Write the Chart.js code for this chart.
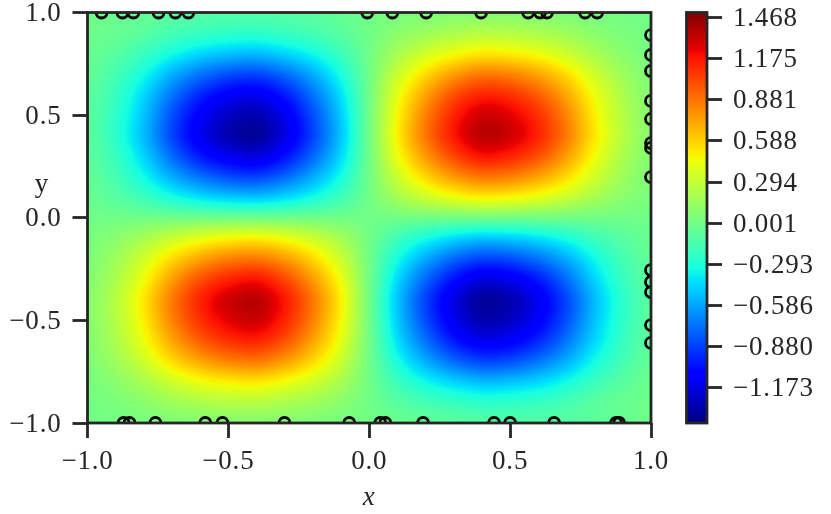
<!DOCTYPE html>
<html><head><meta charset="utf-8">
<script src="https://cdn.jsdelivr.net/npm/chart.js@4"></script>
<style>html,body{margin:0;padding:0;background:#fff}canvas{position:absolute;top:0;display:block}</style>
</head><body>
<canvas id="main" width="831" height="514" style="left:0"></canvas>
<canvas id="bar" width="171" height="514" style="left:660px"></canvas>
<script>
const xGrid=[-1,-0.9,-0.8,-0.7,-0.6,-0.5,-0.4,-0.3,-0.2,-0.1,0,0.1,0.2,0.3,0.4,0.5,0.6,0.7,0.8,0.9,1];
const yGrid=[1,0.9,0.8,0.7,0.6,0.5,0.4,0.3,0.2,0.1,0,-0.1,-0.2,-0.3,-0.4,-0.5,-0.6,-0.7,-0.8,-0.9,-1];
const zGrid=[
[-0.01,-0.03,-0.05,-0.08,-0.10,-0.11,-0.11,-0.10,-0.08,-0.05,0,0.03,0.05,0.07,0.08,0.08,0.07,0.05,0.03,0.01,0],
[-0.01,-0.04,-0.09,-0.16,-0.21,-0.24,-0.25,-0.21,-0.16,-0.09,0,0.09,0.16,0.21,0.25,0.24,0.21,0.16,0.09,0.04,0.01],
[-0.03,-0.09,-0.20,-0.33,-0.44,-0.50,-0.52,-0.45,-0.34,-0.19,0,0.19,0.34,0.45,0.52,0.50,0.44,0.33,0.20,0.09,0.03],
[-0.05,-0.16,-0.33,-0.55,-0.72,-0.83,-0.86,-0.75,-0.56,-0.31,0,0.31,0.56,0.75,0.86,0.83,0.72,0.55,0.33,0.16,0.05],
[-0.07,-0.21,-0.44,-0.72,-0.95,-1.09,-1.13,-0.99,-0.73,-0.41,0,0.41,0.73,0.99,1.13,1.09,0.95,0.72,0.44,0.21,0.07],
[-0.08,-0.24,-0.50,-0.83,-1.09,-1.25,-1.30,-1.13,-0.84,-0.47,0,0.47,0.84,1.13,1.30,1.25,1.09,0.83,0.50,0.24,0.08],
[-0.08,-0.25,-0.52,-0.86,-1.13,-1.30,-1.35,-1.17,-0.87,-0.49,0,0.49,0.87,1.17,1.35,1.30,1.13,0.86,0.52,0.25,0.08],
[-0.07,-0.21,-0.45,-0.75,-0.99,-1.13,-1.18,-1.02,-0.76,-0.43,0,0.43,0.76,1.02,1.18,1.13,0.99,0.75,0.45,0.21,0.07],
[-0.05,-0.16,-0.34,-0.56,-0.73,-0.84,-0.87,-0.76,-0.57,-0.32,0,0.32,0.57,0.76,0.87,0.84,0.73,0.56,0.34,0.16,0.05],
[-0.03,-0.09,-0.19,-0.31,-0.41,-0.47,-0.49,-0.43,-0.32,-0.18,0,0.18,0.32,0.43,0.49,0.47,0.41,0.31,0.19,0.09,0.03],
[0,0,0,0,0,0,0,0,0,0,0,0,0,0,0,0,0,0,0,0,0],
[0.03,0.09,0.19,0.31,0.41,0.47,0.49,0.43,0.32,0.18,0,-0.18,-0.32,-0.43,-0.49,-0.47,-0.41,-0.31,-0.19,-0.09,-0.03],
[0.05,0.16,0.34,0.56,0.73,0.84,0.87,0.76,0.57,0.32,0,-0.32,-0.57,-0.76,-0.87,-0.84,-0.73,-0.56,-0.34,-0.16,-0.05],
[0.07,0.21,0.45,0.75,0.99,1.13,1.18,1.02,0.76,0.43,0,-0.43,-0.76,-1.02,-1.18,-1.13,-0.99,-0.75,-0.45,-0.21,-0.07],
[0.08,0.25,0.52,0.86,1.13,1.30,1.35,1.17,0.87,0.49,0,-0.49,-0.87,-1.17,-1.35,-1.30,-1.13,-0.86,-0.52,-0.25,-0.08],
[0.08,0.24,0.50,0.83,1.09,1.25,1.30,1.13,0.84,0.47,0,-0.47,-0.84,-1.13,-1.30,-1.25,-1.09,-0.83,-0.50,-0.24,-0.08],
[0.07,0.21,0.44,0.72,0.95,1.09,1.13,0.99,0.73,0.41,0,-0.41,-0.73,-0.99,-1.13,-1.09,-0.95,-0.72,-0.44,-0.21,-0.07],
[0.05,0.16,0.33,0.55,0.72,0.83,0.86,0.75,0.56,0.31,0,-0.31,-0.56,-0.75,-0.86,-0.83,-0.72,-0.55,-0.33,-0.16,-0.05],
[0.03,0.09,0.20,0.33,0.44,0.50,0.52,0.45,0.34,0.19,0,-0.19,-0.34,-0.45,-0.52,-0.50,-0.44,-0.33,-0.20,-0.09,-0.03],
[0.01,0.04,0.09,0.16,0.21,0.24,0.25,0.21,0.16,0.09,0,-0.09,-0.16,-0.21,-0.25,-0.24,-0.21,-0.16,-0.09,-0.04,-0.01],
[0,0.01,0.03,0.05,0.07,0.08,0.08,0.07,0.05,0.03,0,-0.03,-0.05,-0.08,-0.10,-0.11,-0.11,-0.10,-0.08,-0.05,-0.01]
];
const topX=[-0.95,-0.876,-0.837,-0.748,-0.688,-0.642,-0.007,0.082,0.202,0.397,0.564,0.606,0.631,0.766,0.809];
const bottomX=[-0.872,-0.851,-0.759,-0.582,-0.521,-0.301,-0.071,0.039,0.057,0.191,0.443,0.5,0.656,0.876,0.887];
const rightY=[0.89,0.793,0.715,0.569,0.481,0.364,0.34,0.198,-0.255,-0.313,-0.362,-0.523,-0.61];
const axisTicks=[-1,-0.5,0,0.5,1];
const cbTicks=[1.468,1.175,0.881,0.588,0.294,0.001,-0.293,-0.586,-0.880,-1.173];
const cbMin=-1.427, cbMax=1.505;
const xLabel='x', yLabel='y';

const INK='#262626', FONT='"Liberation Serif", serif', FS=27, LW=2.8, SP='0.8px';
const jetR=[[0,0],[.35,0],[.66,1],[.89,1],[1,.5]];
const jetG=[[0,0],[.125,0],[.375,1],[.64,1],[.91,0],[1,0]];
const jetB=[[0,.5],[.11,1],[.34,1],[.65,0],[1,0]];
function seg(t,s){for(let i=1;i<s.length;i++){if(t<=s[i][0]){const a=s[i-1],b=s[i];return a[1]+(b[1]-a[1])*(t-a[0])/(b[0]-a[0]);}}return s[s.length-1][1];}
function jet(v){const t=Math.max(0,Math.min(1,(v-cbMin)/(cbMax-cbMin)));return [seg(t,jetR)*255,seg(t,jetG)*255,seg(t,jetB)*255];}
function cr(p0,p1,p2,p3,t){return p1+0.5*t*(p2-p0+t*(2*p0-5*p1+4*p2-p3+t*(3*(p1-p2)+p3-p0)));}
function sample(z,fx,fy){
  const n=z.length-1,m=z[0].length-1;
  const i=Math.min(m-1,Math.max(0,Math.floor(fx))),j=Math.min(n-1,Math.max(0,Math.floor(fy)));
  const tx=fx-i,ty=fy-j,row=[];
  for(let b=-1;b<=2;b++){const r=z[Math.max(0,Math.min(n,j+b))];
    row.push(cr(r[Math.max(0,i-1)],r[i],r[i+1],r[Math.min(m,i+2)],tx));}
  return cr(row[0],row[1],row[2],row[3],ty);
}
const spacing={id:'spacing',beforeUpdate(chart){chart.ctx.letterSpacing=SP;},beforeDraw(chart){chart.ctx.letterSpacing=SP;}};
const fieldPlugin={id:'field',beforeDatasetsDraw(chart){
  const a=chart.chartArea,xs=chart.scales.x,ys=chart.scales.y,ctx=chart.ctx;
  const pts=chart.data.datasets[0].data,nx=xGrid.length,ny=yGrid.length;
  const z=[];for(let j=0;j<ny;j++){z.push(pts.slice(j*nx,(j+1)*nx).map(p=>p.v));}
  const L=Math.floor(a.left),T=Math.floor(a.top),W=Math.ceil(a.right)-L,H=Math.ceil(a.bottom)-T;
  const img=ctx.createImageData(W,H);
  const dx=xGrid[1]-xGrid[0],dy=yGrid[1]-yGrid[0];
  for(let py=0;py<H;py++){const fy=(ys.getValueForPixel(T+py+.5)-yGrid[0])/dy;
    for(let px=0;px<W;px++){const fx=(xs.getValueForPixel(L+px+.5)-xGrid[0])/dx;
      const c=jet(sample(z,fx,fy)),k=(py*W+px)*4;
      img.data[k]=c[0];img.data[k+1]=c[1];img.data[k+2]=c[2];img.data[k+3]=255;}}
  ctx.putImageData(img,L,T);
},afterDraw(chart){
  const a=chart.chartArea,ctx=chart.ctx;
  ctx.save();ctx.strokeStyle=INK;ctx.lineWidth=LW;ctx.strokeRect(a.left,a.top,a.right-a.left,a.bottom-a.top);
  ctx.fillStyle=INK;ctx.font=FS+'px '+FONT;ctx.textAlign='center';ctx.textBaseline='middle';
  const ys=chart.scales.y;
  ctx.fillText(yLabel,42,ys.getPixelForValue(0.16));
  ctx.restore();
}};
function fixScale(dim,val){return function(s){s[dim]=val;s.paddingTop=0;s.paddingBottom=0;s.paddingLeft=0;s.paddingRight=0;};}
const fmt1=v=>Number(v).toFixed(1).replace('-','\u2212');
const fmt3=v=>Number(v).toFixed(3).replace('-','\u2212');
const field=[];yGrid.forEach((y,j)=>xGrid.forEach((x,i)=>field.push({x:x,y:y,v:zGrid[j][i]})));
const ring={pointRadius:5.5,pointBorderWidth:2.8,pointBorderColor:'#000',pointBackgroundColor:'rgba(0,0,0,0)',showLine:false,clip:0};
const axisOpts=(pad,off,extra)=>Object.assign({min:-1,max:1,afterBuildTicks(s){s.ticks=axisTicks.map(v=>({value:v}));},
  border:{display:false},
  grid:{drawOnChartArea:false,drawTicks:true,tickLength:15,tickWidth:LW,tickColor:INK},
  ticks:{callback:fmt1,color:INK,font:{family:FONT,size:FS},padding:pad,labelOffset:off,maxRotation:0,autoSkip:false}},extra);
new Chart(document.getElementById('main'),{type:'scatter',
  data:{datasets:[
    {label:'u',data:field,pointRadius:0,showLine:false},
    Object.assign({label:'top',data:topX.map(x=>({x:x,y:1}))},ring),
    Object.assign({label:'bottom',data:bottomX.map(x=>({x:x,y:-1}))},ring),
    Object.assign({label:'right',data:rightY.map(y=>({x:1,y:y}))},ring)
  ]},
  options:{responsive:false,animation:false,events:[],
    layout:{padding:{left:0,right:180,top:12.5,bottom:0}},
    plugins:{legend:{display:false},tooltip:{enabled:false}},
    scales:{
      x:axisOpts(8,0,{type:'linear',position:'bottom',afterFit:fixScale('height',91),
        title:{display:true,text:xLabel,color:INK,font:{family:FONT,size:FS,style:'italic'},padding:{top:0,bottom:0}}}),
      y:axisOpts(11,1.5,{type:'linear',position:'left',afterFit:fixScale('width',87.5)})
    }},
  plugins:[spacing,fieldPlugin]});

const barPlugin={id:'cbar',beforeDatasetsDraw(chart){
  const a=chart.chartArea,s=chart.scales.y,ctx=chart.ctx;
  const T=Math.floor(a.top),B=Math.ceil(a.bottom);
  for(let p=T;p<B;p++){const c=jet(s.getValueForPixel(p+.5));
    ctx.fillStyle='rgb('+c.map(Math.round).join(',')+')';ctx.fillRect(a.left,p,a.right-a.left,1);}
},afterDraw(chart){
  const a=chart.chartArea,ctx=chart.ctx;
  ctx.save();ctx.strokeStyle=INK;ctx.lineWidth=LW;ctx.strokeRect(a.left,a.top,a.right-a.left,a.bottom-a.top);ctx.restore();
}};
new Chart(document.getElementById('bar'),{type:'scatter',
  data:{datasets:[{label:'colorbar',data:[],pointRadius:0}]},
  options:{responsive:false,animation:false,events:[],
    layout:{padding:{left:26.5,right:0,top:12.5,bottom:91}},
    plugins:{legend:{display:false},tooltip:{enabled:false}},
    scales:{
      x:{type:'linear',display:false,min:0,max:1},
      y:{type:'linear',position:'right',min:cbMin,max:cbMax,
        afterBuildTicks(s){s.ticks=cbTicks.map(v=>({value:v}));},
        afterFit:fixScale('width',124),
        border:{display:false},
        grid:{drawOnChartArea:false,drawTicks:true,tickLength:15,tickWidth:LW,tickColor:INK},
        ticks:{callback:fmt3,color:INK,font:{family:FONT,size:FS},padding:11,labelOffset:1.5,autoSkip:false,maxRotation:0}}
    }},
  plugins:[spacing,barPlugin]});
</script>
</body></html>
